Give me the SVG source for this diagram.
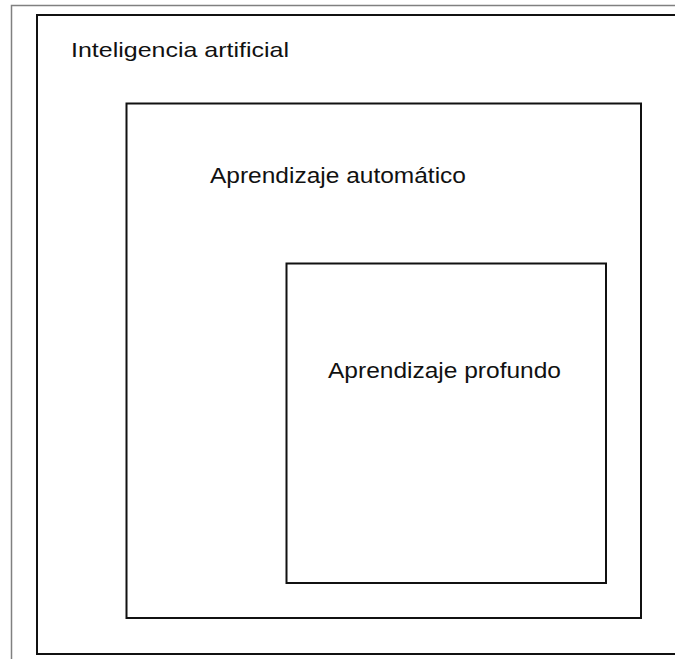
<svg xmlns="http://www.w3.org/2000/svg" width="675" height="659" viewBox="0 0 675 659">
  <style>
    .box { fill: none; stroke: #111; stroke-width: 2; }
    .edge { fill: none; stroke: #808080; stroke-width: 1.5; }
    .lbl { font-family: "Liberation Sans", Arial, sans-serif; fill: #111; }
  </style>
  <rect x="0" y="0" width="675" height="659" fill="#ffffff"/>
  <g id="page-edge">
    <path class="edge" d="M11.5 659 V5.5 H675"/>
  </g>
  <g id="node-ia">
    <rect class="box" x="37" y="15" width="660" height="639"/>
    <text class="lbl" x="71" y="57" font-size="21" textLength="218" lengthAdjust="spacingAndGlyphs">Inteligencia artificial</text>
  </g>
  <g id="node-ml">
    <rect class="box" x="126.5" y="103.5" width="514.5" height="514.5"/>
    <text class="lbl" x="210" y="183" font-size="22" textLength="256" lengthAdjust="spacingAndGlyphs">Aprendizaje automático</text>
  </g>
  <g id="node-dl">
    <rect class="box" x="286.5" y="263.5" width="319.5" height="319.5"/>
    <text class="lbl" x="328" y="378" font-size="22" textLength="233" lengthAdjust="spacingAndGlyphs">Aprendizaje profundo</text>
  </g>
  <g id="connectors"/>
</svg>
